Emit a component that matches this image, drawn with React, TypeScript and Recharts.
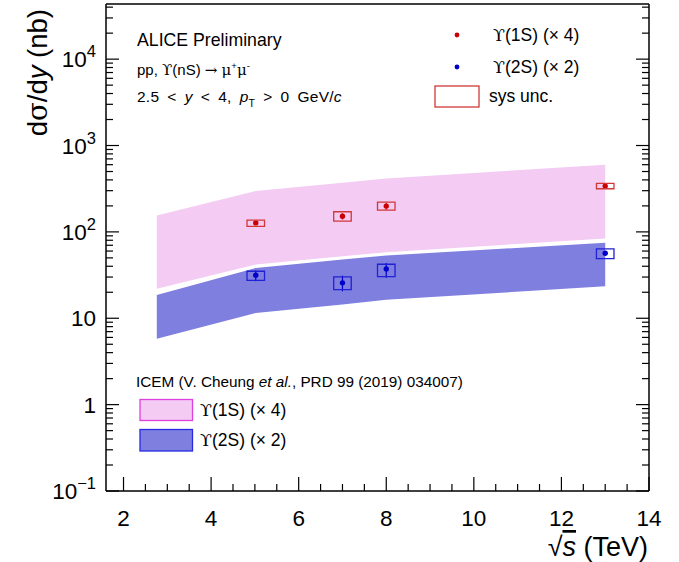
import React from 'react';
import { ComposedChart, Area, Scatter, XAxis, YAxis, ErrorBar, ReferenceArea } from 'recharts';

// ---- Theory bands (ICEM), sqrt(s) in TeV ----
const bandEnergies = [2.76, 5.02, 7, 8, 13];
const band1SLow = [21.9, 41.9, 52.3, 58.2, 83.8];
const band1SHigh = [155, 297, 371, 416, 600];
const band2SLow = [5.8, 11.5, 14.4, 16.4, 23.4];
const band2SHigh = [18.6, 38.3, 47.8, 53.2, 74.8];

// ---- ALICE data points ----
const dataEnergies = [5.02, 7, 8, 13];
const y1S = [127, 152, 199, 339];
const stat1SMinus = [6, 13, 19, 10];
const stat1SPlus = [6, 12, 19, 10];
const sys1SLow = [116, 133, 179, 316];
const sys1SHigh = [137, 171, 221, 364];

const y2S = [31.5, 25.7, 37.3, 56.6];
const stat2SMinus = [4.7, 5.2, 7.9, 3];
const stat2SPlus = [4.5, 5.5, 6.4, 3];
const sys2SLow = [27.5, 21.5, 30.4, 49.1];
const sys2SHigh = [35, 30.1, 42.2, 63.7];

// ---- Axes ----
const xDomain = [1.6, 14];
const xMajorTicks = [2, 4, 6, 8, 10, 12, 14];
const xTickLabels = ['2', '4', '6', '8', '10', '12', '14'];
const yDomain = [0.1, 43500];
const yMajorTicks = [0.1, 1, 10, 100, 1000, 10000];
const yTickBase = ['10', '1', '10', '10', '10', '10'];
const yTickExp = ['\u22121', '', '', '2', '3', '4'];

const boxHalfWidth = 0.2;

const xAllTicks: number[] = [];
for (let v = 2; v <= 14.001; v += 0.5) xAllTicks.push(Math.round(v * 10) / 10);
const yAllTicks: number[] = [];
for (let d = 0.1; d <= 10000.1; d *= 10) {
  for (let m = 1; m <= 9; m++) {
    const v = Math.round(d * m * 1000) / 1000;
    if (v >= yDomain[0] && v <= yDomain[1]) yAllTicks.push(v);
  }
}

const band1S = bandEnergies.map((e, i) => ({ x: e, range: [band1SLow[i], band1SHigh[i]] }));
const band2S = bandEnergies.map((e, i) => ({ x: e, range: [band2SLow[i], band2SHigh[i]] }));
const pts1S = dataEnergies.map((e, i) => ({ x: e, y: y1S[i], err: [stat1SMinus[i], stat1SPlus[i]] }));
const pts2S = dataEnergies.map((e, i) => ({ x: e, y: y2S[i], err: [stat2SMinus[i], stat2SPlus[i]] }));

const SANS = "'Liberation Sans', Arial, Helvetica, sans-serif";
const SYM = "'DejaVu Serif', 'Liberation Serif', serif";

const RED = '#cc0000';
const BLUE = '#0000cc';
const SYSRED = '#d23838';
const SYSBLUE = '#2020d4';
const PINK = '#f3cbf3';
const VIOLET = '#7f7fe0';

const isMajorX = (v: number) => xMajorTicks.includes(v);
const isMajorY = (v: number) => yMajorTicks.some((m) => Math.abs(m - v) < 1e-9);

const XTickBottom = (props: any) => {
  const { x, y, payload } = props;
  const v = payload.value;
  const major = isMajorX(v);
  const len = major ? 14 : 7;
  const idx = xMajorTicks.indexOf(v);
  return (
    <g>
      <line x1={x} x2={x} y1={y} y2={y - len} stroke="#000" strokeWidth={1.2} />
      {major && (
        <text x={x} y={y + 35} textAnchor="middle" fontFamily={SANS} fontSize={22.5} fill="#000">
          {xTickLabels[idx]}
        </text>
      )}
    </g>
  );
};

const XTickTop = (props: any) => {
  const { x, y, payload } = props;
  const len = isMajorX(payload.value) ? 14 : 7;
  return <line x1={x} x2={x} y1={y} y2={y + len} stroke="#000" strokeWidth={1.2} />;
};

const YTickLeft = (props: any) => {
  const { x, y, payload } = props;
  const v = payload.value;
  const major = isMajorY(v);
  const len = major ? 13 : 7;
  const idx = yMajorTicks.findIndex((m) => Math.abs(m - v) < 1e-9);
  return (
    <g>
      <line x1={x} x2={x + len} y1={y} y2={y} stroke="#000" strokeWidth={1.2} />
      {major && (
        <text x={x - 10} y={y + 8} textAnchor="end" fontFamily={SANS} fontSize={22.5} fill="#000">
          {yTickBase[idx]}
          {yTickExp[idx] !== '' && (
            <tspan dy={-10} fontSize={16.5}>
              {yTickExp[idx]}
            </tspan>
          )}
        </text>
      )}
    </g>
  );
};

const YTickRight = (props: any) => {
  const { x, y, payload } = props;
  const len = isMajorY(payload.value) ? 13 : 7;
  return <line x1={x} x2={x - len} y1={y} y2={y} stroke="#000" strokeWidth={1.2} />;
};

const dotShape = (color: string) => (p: any) => <circle cx={p.cx} cy={p.cy} r={2.7} fill={color} />;

const Overlay = () => (
  <svg
    width={679}
    height={562}
    style={{ position: 'absolute', left: 0, top: 0, pointerEvents: 'none' }}
  >
    {/* Y axis title */}
    <text
      transform="translate(47, 9) rotate(-90)"
      textAnchor="end"
      fontFamily={SANS}
      fontSize={27.5}
      fill="#000"
    >
      d<tspan fontFamily={SYM}>σ</tspan>/d<tspan fontStyle="italic">y</tspan> (nb)
    </text>
    {/* X axis title */}
    <text x={648} y={556} textAnchor="end" fontFamily={SANS} fontSize={27} fill="#000">
      √<tspan fontStyle="italic" textDecoration="overline">s</tspan> (TeV)
    </text>

    {/* ALICE labels */}
    <text x={137} y={46} fontFamily={SANS} fontSize={17.7} fill="#000">
      ALICE Preliminary
    </text>
    <text x={137} y={75} fontFamily={SANS} fontSize={15} fill="#000">
      pp, <tspan fontFamily={SYM}>ϒ</tspan>(nS) <tspan fontFamily={SYM}>→</tspan>{' '}
      <tspan fontFamily={SYM}>μ</tspan>
      <tspan dy={-6} fontSize={9.5}>+</tspan>
      <tspan dy={6} fontFamily={SYM}>μ</tspan>
      <tspan dy={-6} fontSize={9.5}>-</tspan>
    </text>
    <text x={137} y={102} fontFamily={SANS} fontSize={15.5} letterSpacing={0.25} wordSpacing={3.5} fill="#000">
      2.5 &lt; <tspan fontStyle="italic">y</tspan> &lt; 4, <tspan fontStyle="italic">p</tspan>
      <tspan dy={5} fontSize={10.5}>T</tspan>
      <tspan dy={-5}> &gt; 0 GeV/</tspan>
      <tspan fontStyle="italic">c</tspan>
    </text>

    {/* Data legend */}
    <circle cx={457} cy={35} r={2.4} fill={RED} />
    <text x={493} y={41} fontFamily={SANS} fontSize={17.5} fill="#000">
      <tspan fontFamily={SYM}>ϒ</tspan>(1S) (× 4)
    </text>
    <circle cx={457} cy={67} r={2.4} fill={BLUE} />
    <text x={493} y={73} fontFamily={SANS} fontSize={17.5} fill="#000">
      <tspan fontFamily={SYM}>ϒ</tspan>(2S) (× 2)
    </text>
    <rect x={435} y={86} width={44} height={21} fill="none" stroke={SYSRED} strokeWidth={1.3} />
    <text x={489} y={102} fontFamily={SANS} fontSize={17.5} fill="#000">
      sys unc.
    </text>

    {/* Model legend */}
    <text x={136} y={387} fontFamily={SANS} fontSize={15.3} fill="#000">
      ICEM (V. Cheung <tspan fontStyle="italic">et al.</tspan>, PRD 99 (2019) 034007)
    </text>
    <rect x={140} y={399.5} width={52.5} height={21} fill={PINK} stroke="#e040e0" strokeWidth={1.3} />
    <text x={200} y={416} fontFamily={SANS} fontSize={17.5} fill="#000">
      <tspan fontFamily={SYM}>ϒ</tspan>(1S) (× 4)
    </text>
    <rect x={140} y={429.5} width={52.5} height={21.5} fill={VIOLET} stroke="#2828e0" strokeWidth={1.3} />
    <text x={200} y={446} fontFamily={SANS} fontSize={17.5} fill="#000">
      <tspan fontFamily={SYM}>ϒ</tspan>(2S) (× 2)
    </text>
  </svg>
);

export default function App() {
  return (
    <div style={{ position: 'absolute', left: 0, top: 0, width: 679, height: 562, background: '#fff' }}>
      <div style={{ position: 'absolute', left: 0, top: 0 }}>
        <ComposedChart
          width={679}
          height={562}
          margin={{ top: 4, right: 30, bottom: 70, left: 105 }}
        >
          <XAxis
            xAxisId="b"
            dataKey="x"
            type="number"
            domain={xDomain}
            allowDataOverflow
            ticks={xAllTicks}
            interval={0}
            height={1}
            tickSize={0}
            tickMargin={0}
            tickLine={false}
            axisLine={{ stroke: '#000', strokeWidth: 1.5 }}
            tick={<XTickBottom />}
          />
          <XAxis
            xAxisId="t"
            orientation="top"
            mirror
            type="number"
            domain={xDomain}
            allowDataOverflow
            ticks={xAllTicks}
            interval={0}
            height={1}
            tickSize={0}
            tickMargin={0}
            tickLine={false}
            axisLine={{ stroke: '#000', strokeWidth: 1.5 }}
            tick={<XTickTop />}
          />
          <YAxis
            yAxisId="l"
            type="number"
            scale="log"
            domain={yDomain}
            allowDataOverflow
            ticks={yAllTicks}
            interval={0}
            width={1}
            tickSize={0}
            tickMargin={0}
            tickLine={false}
            axisLine={{ stroke: '#000', strokeWidth: 1.5 }}
            tick={<YTickLeft />}
          />
          <YAxis
            yAxisId="r"
            orientation="right"
            mirror
            type="number"
            scale="log"
            domain={yDomain}
            allowDataOverflow
            ticks={yAllTicks}
            interval={0}
            width={1}
            tickSize={0}
            tickMargin={0}
            tickLine={false}
            axisLine={{ stroke: '#000', strokeWidth: 1.5 }}
            tick={<YTickRight />}
          />

          <Area
            xAxisId="b"
            yAxisId="l"
            data={band1S}
            dataKey="range"
            type="linear"
            stroke="none"
            fill={PINK}
            fillOpacity={1}
            dot={false}
            activeDot={false}
            isAnimationActive={false}
          />
          <Area
            xAxisId="b"
            yAxisId="l"
            data={band2S}
            dataKey="range"
            type="linear"
            stroke="none"
            fill={VIOLET}
            fillOpacity={1}
            dot={false}
            activeDot={false}
            isAnimationActive={false}
          />

          {dataEnergies.map((e, i) => (
            <ReferenceArea
              key={'s1-' + i}
              xAxisId="b"
              yAxisId="l"
              x1={e - boxHalfWidth}
              x2={e + boxHalfWidth}
              y1={sys1SLow[i]}
              y2={sys1SHigh[i]}
              fill="none"
              fillOpacity={0}
              stroke={SYSRED}
              strokeWidth={1.3}
              ifOverflow="visible"
              zIndex={1000}
            />
          ))}
          {dataEnergies.map((e, i) => (
            <ReferenceArea
              key={'s2-' + i}
              xAxisId="b"
              yAxisId="l"
              x1={e - boxHalfWidth}
              x2={e + boxHalfWidth}
              y1={sys2SLow[i]}
              y2={sys2SHigh[i]}
              fill="none"
              fillOpacity={0}
              stroke={SYSBLUE}
              strokeWidth={1.3}
              ifOverflow="visible"
              zIndex={1000}
            />
          ))}

          <Scatter
            xAxisId="b"
            yAxisId="l"
            data={pts1S}
            dataKey="y"
            fill={RED}
            shape={dotShape(RED)}
            isAnimationActive={false}
          >
            <ErrorBar dataKey="err" direction="y" width={0} stroke={RED} strokeWidth={1.2} isAnimationActive={false} />
          </Scatter>
          <Scatter
            xAxisId="b"
            yAxisId="l"
            data={pts2S}
            dataKey="y"
            fill={BLUE}
            shape={dotShape(BLUE)}
            isAnimationActive={false}
          >
            <ErrorBar dataKey="err" direction="y" width={0} stroke={BLUE} strokeWidth={1.2} isAnimationActive={false} />
          </Scatter>
        </ComposedChart>
      </div>
      <Overlay />
    </div>
  );
}
